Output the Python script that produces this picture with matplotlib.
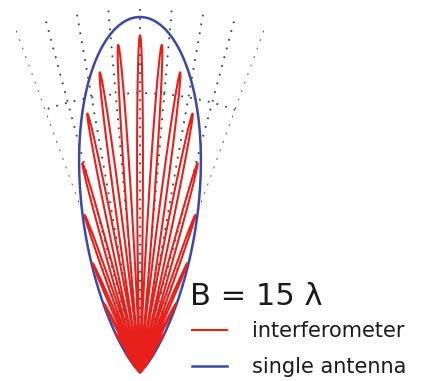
import numpy as np
import matplotlib
matplotlib.use("Agg")
import matplotlib.pyplot as plt

# baseline in wavelengths, single antenna beam exponent (cos^n), peak levels
BASELINE = 15
BEAM_EXP = 12
SINGLE_PEAK = 0.97
INTERF_PEAK = 0.92
GRID_ANGLES = [-20, -15, -10, -5, 0, 5, 10, 15, 20]
GRID_RADII = [0.762]
LABELS = ["interferometer", "single antenna"]
TITLE = "B = 15 \u03bb"

RED = "#e8201c"
BLUE = "#3a48a8"


def drawPattern():
    fig = plt.figure(figsize=(4.24, 3.81), dpi=100)
    # polar wedge bbox is forced square -> square axes box centred on origin x
    ax = fig.add_axes([-0.1014, 0.0236, 0.8632, 0.9606], projection="polar")
    ax.set_theta_zero_location("N")
    ax.set_thetamin(-20)
    ax.set_thetamax(20)
    ax.set_rlim(0, 1)

    theta = np.linspace(-np.pi / 2, np.pi / 2, 40001)
    single = SINGLE_PEAK * np.cos(theta) ** BEAM_EXP
    interf = INTERF_PEAK * np.cos(theta) ** BEAM_EXP * np.cos(np.pi * BASELINE * np.sin(theta)) ** 2

    l1, = ax.plot(theta, interf, color=RED, lw=1.5, clip_on=False, zorder=3)
    l2, = ax.plot(theta, single, color=BLUE, lw=1.8, clip_on=False, zorder=2)

    # dotted grid, no frame
    ax.set_thetagrids(GRID_ANGLES, labels=[""] * len(GRID_ANGLES))
    ax.set_rgrids(GRID_RADII, labels=[""] * len(GRID_RADII))
    ax.grid(True, color="0.25", linestyle=(0, (1, 4)), linewidth=1.3)
    ax.tick_params(length=0)
    ax.set_frame_on(False)
    ax.patch.set_visible(False)

    fig.text(0.448, 0.2, TITLE, fontsize=22, color="#1a1a1a", va="baseline", ha="left")
    fig.legend([l1, l2], LABELS, loc="upper left", bbox_to_anchor=(0.452, 0.157),
               frameon=False, fontsize=15, handlelength=1.7, handletextpad=1.2,
               labelspacing=0.75, borderpad=0, borderaxespad=0, labelcolor="#1a1a1a")

    plt.savefig("out.png", dpi=100)


if __name__ == "__main__":
    drawPattern()
